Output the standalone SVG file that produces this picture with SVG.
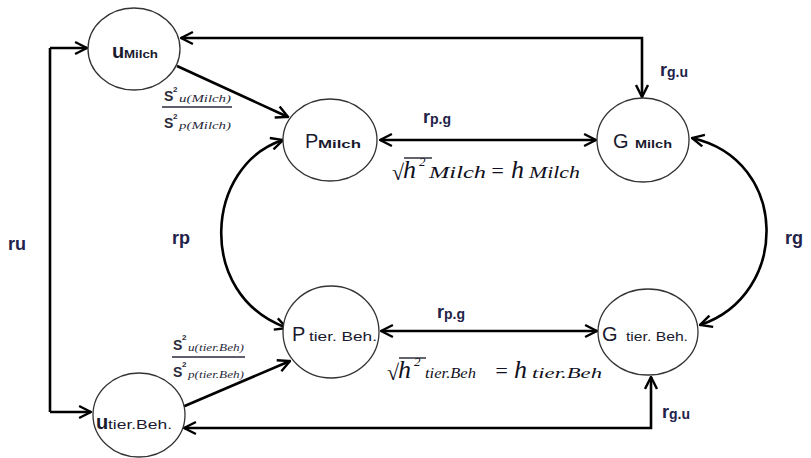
<svg xmlns="http://www.w3.org/2000/svg" width="811" height="458" viewBox="0 0 811 458">
<style>
.node{fill:#fff;stroke:#333;stroke-width:1.3}
.c{fill:none;stroke:#000;stroke-width:2.6}
.big{font-family:"Liberation Sans",Arial,sans-serif;font-size:20px;fill:#1a1a2e}
.sm{font-family:"Liberation Sans",Arial,sans-serif;font-size:11px;font-weight:bold;fill:#1a1a2e}
.smn{font-family:"Liberation Sans",Arial,sans-serif;font-size:12px;fill:#1a1a2e}
.lab{font-family:"Liberation Sans",Arial,sans-serif;font-size:18px;font-weight:bold;fill:#22224a}
.labs{font-size:14px}
.m{font-family:"Liberation Serif","Times New Roman",serif;font-style:italic;fill:#101020}
.fr{font-family:"Liberation Sans",Arial,sans-serif;font-size:14px;font-weight:bold;fill:#2a2a3a}
.frs{font-family:"Liberation Serif",serif;font-style:italic;font-size:10px;fill:#2a2a3a}
.sup{font-family:"Liberation Sans",Arial,sans-serif;font-size:8px;font-weight:bold;fill:#2a2a3a}
</style>
<defs>
<marker id="ah" viewBox="0 0 12 12" refX="11" refY="6" markerWidth="5.5" markerHeight="5.5" orient="auto-start-reverse" markerUnits="strokeWidth">
<path d="M1,1 L11,6 L1,11" fill="none" stroke="#000" stroke-width="2"/>
</marker>
</defs>
<g id="connectors">
<path class="c" d="M50,48 V412" />
<path class="c" d="M50,48 H87" marker-end="url(#ah)"/>
<path class="c" d="M50,412 H91" marker-end="url(#ah)"/>
<path class="c" d="M181,38 H642 V97" marker-start="url(#ah)" marker-end="url(#ah)"/>
<path class="c" d="M184,428 H651 V377" marker-start="url(#ah)" marker-end="url(#ah)"/>
<path class="c" d="M177,66 L288,117" marker-end="url(#ah)"/>
<path class="c" d="M180,408 L290,361" marker-end="url(#ah)"/>
<path class="c" d="M380,140 H596" marker-start="url(#ah)" marker-end="url(#ah)"/>
<path class="c" d="M381,331 H597" marker-start="url(#ah)" marker-end="url(#ah)"/>
<path class="c" d="M283,140 C205,165 195,295 287,328" marker-start="url(#ah)" marker-end="url(#ah)"/>
<path class="c" d="M692,138 C790,160 790,295 700,325" marker-start="url(#ah)" marker-end="url(#ah)"/>
</g>
<g id="labels">
<text class="lab" x="8" y="250">r<tspan>u</tspan></text>
<text class="lab" x="172" y="244">r<tspan>p</tspan></text>
<text class="lab" x="785" y="244">r<tspan>g</tspan></text>
<text class="lab" x="660" y="76">r<tspan class="labs" dy="1">g.u</tspan></text>
<text class="lab" x="662" y="418">r<tspan class="labs" dy="1">g.u</tspan></text>
<text class="lab" x="423" y="123">r<tspan class="labs" dy="1">p.g</tspan></text>
<text class="lab" x="437" y="318">r<tspan class="labs" dy="1">p.g</tspan></text>
<g id="formula1">
<text class="m" x="392" y="180" font-size="22" font-style="normal">√</text>
<line x1="404" y1="158" x2="432" y2="158" stroke="#101020" stroke-width="1.3"/>
<text class="m" x="403" y="178" font-size="26">h</text>
<text class="m" x="419" y="166" font-size="13" font-style="normal">2</text>
<text class="m" x="429" y="178" font-size="16" textLength="57" lengthAdjust="spacingAndGlyphs">Milch</text>
<text class="m" x="490" y="178" font-size="22" font-style="normal">=</text>
<text class="m" x="511" y="178" font-size="26">h</text>
<text class="m" x="529" y="178" font-size="16" textLength="51" lengthAdjust="spacingAndGlyphs">Milch</text>
</g>
<g id="formula2">
<text class="m" x="387" y="380" font-size="22" font-style="normal">√</text>
<line x1="399" y1="358" x2="426" y2="358" stroke="#101020" stroke-width="1.3"/>
<text class="m" x="398" y="378" font-size="26">h</text>
<text class="m" x="414" y="366" font-size="13" font-style="normal">2</text>
<text class="m" x="425" y="378" font-size="15" textLength="51" lengthAdjust="spacingAndGlyphs">tier.Beh</text>
<text class="m" x="494" y="378" font-size="22" font-style="normal">=</text>
<text class="m" x="514" y="378" font-size="26">h</text>
<text class="m" x="532" y="378" font-size="15" textLength="70" lengthAdjust="spacingAndGlyphs">tier.Beh</text>
</g>
<g id="fraction1">
<text class="fr" x="164" y="101">S</text>
<text class="sup" x="173" y="92">2</text>
<text class="frs" x="179" y="102" font-size="10" textLength="52" lengthAdjust="spacingAndGlyphs">u(Milch)</text>
<line x1="162" y1="107" x2="232" y2="107" stroke="#2a2a3a" stroke-width="1.3"/>
<text class="fr" x="164" y="128">S</text>
<text class="sup" x="173" y="119">2</text>
<text class="frs" x="179" y="129" font-size="10" textLength="52" lengthAdjust="spacingAndGlyphs">p(Milch)</text>
</g>
<g id="fraction2">
<text class="fr" x="173" y="350">S</text>
<text class="sup" x="182" y="340">2</text>
<text class="frs" x="188" y="351" font-size="9" textLength="56" lengthAdjust="spacingAndGlyphs">u(tier.Beh)</text>
<line x1="172" y1="357" x2="245" y2="357" stroke="#2a2a3a" stroke-width="1.3"/>
<text class="fr" x="173" y="377">S</text>
<text class="sup" x="182" y="367">2</text>
<text class="frs" x="188" y="378" font-size="9" textLength="56" lengthAdjust="spacingAndGlyphs">p(tier.Beh)</text>
</g>
</g>
<g id="u_milch">
<ellipse class="node" cx="134" cy="49" rx="46" ry="41"/>
<text class="big" x="112" y="58" font-weight="bold">u</text>
<text class="sm" x="124" y="58" textLength="34" lengthAdjust="spacingAndGlyphs">Milch</text>
</g>
<g id="p_milch">
<ellipse class="node" cx="330" cy="140" rx="47" ry="41"/>
<text class="big" x="305" y="148">P</text>
<text class="sm" x="318" y="148" textLength="43" lengthAdjust="spacingAndGlyphs">Milch</text>
</g>
<g id="g_milch">
<ellipse class="node" cx="643" cy="140" rx="46" ry="42"/>
<text class="big" x="613" y="148">G</text>
<text class="sm" x="635" y="148" textLength="37" lengthAdjust="spacingAndGlyphs">Milch</text>
</g>
<g id="p_tier">
<ellipse class="node" cx="331" cy="332" rx="48" ry="46"/>
<text class="big" x="292" y="341" font-size="24">P</text>
<text class="smn" x="309" y="341" font-size="13" textLength="68" lengthAdjust="spacingAndGlyphs">tier. Beh.</text>
</g>
<g id="g_tier">
<ellipse class="node" cx="648" cy="332" rx="50" ry="43"/>
<text class="big" x="602" y="341" font-size="25">G</text>
<text class="smn" x="626" y="341" textLength="62" lengthAdjust="spacingAndGlyphs">tier. Beh.</text>
</g>
<g id="u_tier">
<ellipse class="node" cx="139" cy="415" rx="46" ry="42"/>
<text class="big" x="96" y="429" font-weight="bold">u</text>
<text class="smn" x="108" y="429" font-size="13" textLength="64" lengthAdjust="spacingAndGlyphs">tier.Beh.</text>
</g>
</svg>
